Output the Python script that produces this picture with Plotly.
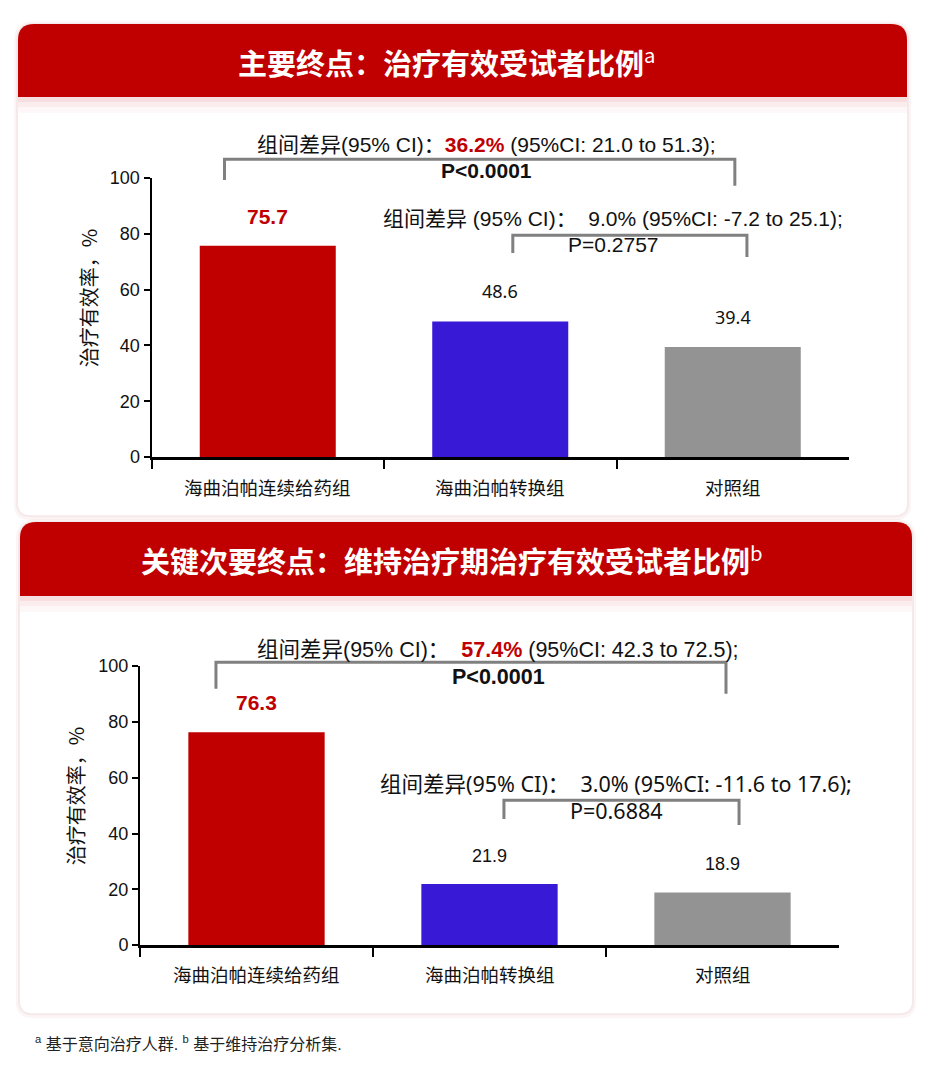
import plotly.graph_objects as go

# page (screenshot) size and figure size (browser body keeps an 8px margin)
PW, PH = 931, 1082
M = 8
W, H = PW - 2 * M, PH - 2 * M

# ---------------- data ----------------
categories = ["海曲泊帕连续给药组", "海曲泊帕转换组", "对照组"]
primary_rates = [75.7, 48.6, 39.4]
secondary_rates = [76.3, 21.9, 18.9]
bar_colors = ["#C00000", "#381AD6", "#939393"]
y_tick_values = [0, 20, 40, 60, 80, 100]

primary_title = "主要终点：治疗有效受试者比例"
secondary_title = "关键次要终点：维持治疗期治疗有效受试者比例"
y_title = "治疗有效率，%"
footnote = "<sup>a</sup> 基于意向治疗人群. <sup>b</sup> 基于维持治疗分析集."

primary_diff_main = ["组间差异(95% CI)：", "36.2%", " (95%CI: 21.0 to 51.3);", "P&lt;0.0001"]
primary_diff_second = ["组间差异 (95% CI)：  ", "9.0%", " (95%CI: -7.2 to 25.1);", "P=0.2757"]
secondary_diff_main = ["组间差异(95% CI)：  ", "57.4%", " (95%CI: 42.3 to 72.5);", "P&lt;0.0001"]
secondary_diff_second = ["组间差异(95% CI)：  ", "3.0%", " (95%CI: -11.6 to 17.6);", "P=0.6884"]

RED = "#C00000"
CJK = "Noto Sans CJK SC"
SANS = "Liberation Sans, Noto Sans CJK SC"
NOTO = "Noto Sans, Noto Sans CJK SC"


def X(px):
    return (px - M) / W


def Y(py):
    py = 171 + (py - 170) * 1.005
    return 1 - (py - M) / H


def rr_path(x0, y0, x1, y1, rt, rb):
    return (f"M {X(x0+rt)},{Y(y0)} L {X(x1-rt)},{Y(y0)} Q {X(x1)},{Y(y0)} {X(x1)},{Y(y0+rt)} "
            f"L {X(x1)},{Y(y1-rb)} Q {X(x1)},{Y(y1)} {X(x1-rb)},{Y(y1)} "
            f"L {X(x0+rb)},{Y(y1)} Q {X(x0)},{Y(y1)} {X(x0)},{Y(y1-rb)} "
            f"L {X(x0)},{Y(y0+rt)} Q {X(x0)},{Y(y0)} {X(x0+rt)},{Y(y0)} Z")


panels = [
    dict(card=(18, 14, 907, 512), head_bot=88, title=primary_title, sup="a", title_x=446,
         ax=(151.5, 849, 453, 170), rates=primary_rates,
         tick_font=SANS, value_font=NOTO, cat_y=483, ytitle_x=88, ytitle_y=292,
         cmp=[
             dict(txt=primary_diff_main, red=True, font=SANS, size=21, cx=486, y1=136, y2=162, pbold=True,
                  br=(-0.186, 2.009, 106.7, 99.3, 97.2)),
             dict(txt=primary_diff_second, red=False, font=SANS, size=21, cx=613, y1=211, y2=238, pbold=False,
                  br=(1.054, 2.061, 79.5, 73.1, 71.7)),
         ]),
    dict(card=(20, 519, 912, 1017), head_bot=594, title=secondary_title, sup="b", title_x=452,
         ax=(140, 839, 948, 665), rates=secondary_rates,
         tick_font=SANS, value_font=SANS, cat_y=977, ytitle_x=75, ytitle_y=797,
         cmp=[
             dict(txt=secondary_diff_main, red=True, font=SANS, size=21.5, cx=498, y1=649, y2=676, pbold=True,
                  br=(-0.174, 2.015, 101.4, 91.9, 90.1)),
             dict(txt=secondary_diff_second, red=False, font=NOTO, size=21.5, cx=616, y1=784, y2=811, pbold=False,
                  br=(1.062, 2.071, 51.9, 45.2, 43.1)),
         ]),
]

fig = go.Figure()
shapes = []
annotations = []

for k, p in enumerate(panels):
    sfx = "" if k == 0 else str(k + 1)
    xl, xr, y0, y100 = p["ax"]
    cx0, cy0, cx1, cy1 = p["card"]

    def cat_px(c, xl=xl, xr=xr):
        return xl + (c + 0.5) * (xr - xl) / 3

    def val_px(v, y0=y0, y100=y100):
        return y0 - v * (y0 - y100) / 100

    # card shadow, card, header
    shapes.append(dict(type="path", xref="paper", yref="paper", layer="below",
                       path=rr_path(cx0 - 4, cy0 - 3, cx1 + 4, cy1 + 5, 20, 16),
                       fillcolor="rgba(200,120,120,0.07)", line=dict(width=0)))
    shapes.append(dict(type="path", xref="paper", yref="paper", layer="below",
                       path=rr_path(cx0 - 2, cy0 - 1, cx1 + 2, cy1 + 2, 18, 14),
                       fillcolor="rgba(200,120,120,0.09)", line=dict(width=0)))
    shapes.append(dict(type="path", xref="paper", yref="paper", layer="below",
                       path=rr_path(cx0, cy0, cx1, cy1, 16, 12),
                       fillcolor="white", line=dict(width=0)))
    for h, a in [(16, 0.03), (10, 0.04), (5, 0.06)]:
        shapes.append(dict(type="rect", xref="paper", yref="paper", layer="below",
                           x0=X(cx0), x1=X(cx1), y0=Y(p["head_bot"] + h), y1=Y(p["head_bot"]),
                           fillcolor=f"rgba(192,0,0,{a})", line=dict(width=0)))
    shapes.append(dict(type="path", xref="paper", yref="paper", layer="below",
                       path=rr_path(cx0, cy0, cx1, p["head_bot"], 16, 0.01),
                       fillcolor=RED, line=dict(width=0)))
    annotations.append(dict(xref="paper", yref="paper", x=X(p["title_x"]), y=Y((cy0 + p["head_bot"]) / 2),
                            text=f"<b>{p['title']}</b><sup>{p['sup']}</sup>", showarrow=False,
                            xanchor="center", yanchor="middle",
                            font=dict(family=CJK, size=29, color="white")))

    # bars
    fig.add_trace(go.Bar(x=[0, 1, 2], y=p["rates"], marker=dict(color=bar_colors, line=dict(width=0)),
                         width=0.585, xaxis="x" + sfx, yaxis="y" + sfx, showlegend=False,
                         hoverinfo="skip"))

    fig.update_layout(**{
        "xaxis" + sfx: dict(domain=[X(xl), X(xr)], range=[-0.5, 2.5], anchor="y" + sfx,
                            tickvals=[-0.5, 0.5, 1.5], ticktext=["", "", ""], ticks="outside",
                            ticklen=9, tickwidth=2, tickcolor="black", showline=True, linewidth=3,
                            linecolor="black", showgrid=False, zeroline=False, fixedrange=True),
        "yaxis" + sfx: dict(domain=[Y(y0), Y(y100)], range=[0, 100], anchor="x" + sfx,
                            tickvals=y_tick_values, ticks="outside", ticklen=6, tickwidth=2,
                            tickcolor="black", showline=True, linewidth=2, linecolor="black",
                            showgrid=False, zeroline=False,
                            tickfont=dict(family=p["tick_font"], size=18, color="#111"),
                            fixedrange=True),
    })

    # value labels
    for i, v in enumerate(p["rates"]):
        if i == 0:
            txt, fnt = f"<b>{v}</b>", dict(family=SANS, size=21, color=RED)
        else:
            txt, fnt = f"{v}", dict(family=p["value_font"], size=18, color="#111")
        annotations.append(dict(xref="x" + sfx, yref="y" + sfx, x=i, y=v, yshift=16,
                                text=txt, showarrow=False, xanchor="center", yanchor="bottom",
                                font=fnt))

    # category labels
    for i, c in enumerate(categories):
        annotations.append(dict(xref="x" + sfx, yref="paper", x=i, y=Y(p["cat_y"]),
                                text=c, showarrow=False, xanchor="center", yanchor="middle",
                                font=dict(family=CJK, size=18.5, color="#111")))

    # y title
    annotations.append(dict(xref="paper", yref="paper", x=X(p["ytitle_x"]), y=Y(p["ytitle_y"]),
                            text=y_title, textangle=-90, showarrow=False,
                            xanchor="center", yanchor="middle",
                            font=dict(family=CJK, size=20, color="#111")))

    # comparison brackets
    for c in p["cmp"]:
        bl, brr, top, legl, legr = c["br"]
        path = (f"M {X(cat_px(bl))},{Y(val_px(legl))} L {X(cat_px(bl))},{Y(val_px(top))} "
                f"L {X(cat_px(brr))},{Y(val_px(top))} L {X(cat_px(brr))},{Y(val_px(legr))}")
        shapes.append(dict(type="path", xref="paper", yref="paper", path=path,
                           line=dict(color="#808080", width=3)))
        t = c["txt"]
        if c["red"]:
            mid = f"<span style='color:{RED}'><b>{t[1]}</b></span>"
        else:
            mid = t[1]
        annotations.append(dict(xref="paper", yref="paper", x=X(c["cx"]), y=Y(c["y1"]),
                                text=t[0] + mid + t[2], showarrow=False,
                                xanchor="center", yanchor="middle",
                                font=dict(family=c["font"], size=c["size"], color="#111")))
        ptxt = f"<b>{t[3]}</b>" if c["pbold"] else t[3]
        annotations.append(dict(xref="paper", yref="paper", x=X(c["cx"]), y=Y(c["y2"]),
                                text=ptxt, showarrow=False, xanchor="center", yanchor="middle",
                                font=dict(family=c["font"], size=c["size"], color="#111")))

annotations.append(dict(xref="paper", yref="paper", x=X(33), y=Y(1047), text=footnote,
                        showarrow=False, xanchor="left", yanchor="middle",
                        font=dict(family=SANS, size=16, color="#222")))

fig.update_layout(width=W, height=H, autosize=False, margin=dict(l=0, r=0, t=0, b=0),
                  paper_bgcolor="white", plot_bgcolor="rgba(0,0,0,0)",
                  shapes=shapes, annotations=annotations, bargap=0.4)

fig.write_html("out.html", config={"displayModeBar": False})
